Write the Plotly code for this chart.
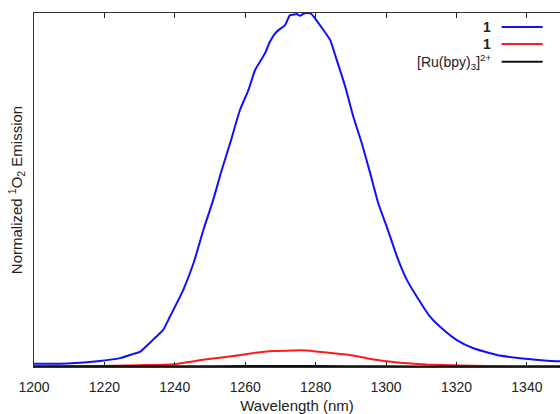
import plotly.graph_objects as go

# Wavelength (nm) and normalized emission values
blue_x = [1200, 1209.5, 1218.75, 1224.4, 1228.2, 1230.1, 1233.9, 1236.7, 1238.6, 1242.4,
          1245.3, 1248.1, 1250.9, 1253.3, 1255.7, 1258.5, 1260.9, 1262.8, 1265.6, 1267.0,
          1268.9, 1271.3, 1272.7, 1273.6, 1274.6, 1275.6, 1276.5, 1277.5, 1278.7, 1279.8,
          1282.2, 1284.1, 1286.0, 1288.4, 1290.7, 1293.1, 1295.5, 1297.8, 1300.2, 1303.1,
          1305.9, 1308.7, 1312.5, 1316.3, 1320.1, 1324.8, 1331.5, 1338.1, 1345.7, 1349.5]
blue_y = [0.009, 0.010, 0.017, 0.025, 0.037, 0.043, 0.078, 0.105, 0.142, 0.218,
          0.293, 0.387, 0.472, 0.556, 0.632, 0.726, 0.782, 0.839, 0.886, 0.919,
          0.947, 0.966, 0.994, 0.995, 0.997, 0.992, 0.998, 1.000, 0.998, 0.985,
          0.952, 0.924, 0.867, 0.792, 0.707, 0.632, 0.547, 0.462, 0.396, 0.312,
          0.246, 0.199, 0.142, 0.105, 0.076, 0.053, 0.034, 0.025, 0.018, 0.016]

red_x = [1200, 1215, 1230, 1239.6, 1249.0, 1256.6, 1262.0, 1268.0, 1272.0, 1275.6, 1280.0,
         1285.0, 1288.8, 1294.5, 1300.2, 1304.0, 1311.6, 1321.0, 1336.0, 1349.5]
red_y = [0.001, 0.002, 0.005, 0.008, 0.022, 0.031, 0.039, 0.045, 0.046, 0.047, 0.044,
         0.039, 0.035, 0.025, 0.016, 0.012, 0.007, 0.004, 0.002, 0.002]

black_x = [1200, 1220, 1240, 1260, 1280, 1300, 1320, 1340, 1349.5]
black_y = [0.002, 0.002, 0.002, 0.0025, 0.0025, 0.002, 0.0015, 0.0015, 0.0015]

legend_labels = ["<b>1</b>", "<b>1</b>", "[Ru(bpy)<sub>3</sub>]<sup>2+</sup>"]
colors = ["#1010ff", "#ff1a1a", "#111111"]
x_ticks = [1200, 1220, 1240, 1260, 1280, 1300, 1320, 1340]

fig = go.Figure()
for xs, ys, c, name in [(blue_x, blue_y, colors[0], legend_labels[0]),
                        (red_x, red_y, colors[1], legend_labels[1]),
                        (black_x, black_y, colors[2], legend_labels[2])]:
    fig.add_trace(go.Scatter(x=xs, y=ys, mode="lines", name=name,
                             line=dict(color=c, width=2, shape="spline", smoothing=0.5),
                             showlegend=False))

font = dict(family="Liberation Sans, Arial, sans-serif", size=14, color="#222222")
tfont = dict(family="Liberation Sans, Arial, sans-serif", size=15, color="#222222")

# legend drawn manually (text left of line sample, like the reference)
leg_y = [0.9605, 0.9125, 0.862]
for lbl, c, yy in zip(legend_labels, colors, leg_y):
    fig.add_annotation(x=0.873, y=yy, xref="paper", yref="paper", text=lbl,
                       showarrow=False, xanchor="right", yanchor="middle", font=font)
    fig.add_shape(type="line", xref="paper", yref="paper", x0=0.889, x1=0.967,
                  y0=yy, y1=yy, line=dict(color=c, width=2))

fig.update_layout(
    width=560, height=414,
    margin=dict(l=34, r=0, t=13, b=47),
    paper_bgcolor="white", plot_bgcolor="white",
    font=font,
    xaxis=dict(range=[1200, 1349.4], tickvals=x_ticks, ticks="inside", ticklen=5,
               tickcolor="#222222", showline=True, linecolor="#333333", linewidth=1,
               mirror="ticks", showgrid=False, zeroline=False, ticklabelstandoff=7,
               automargin=False,
               title=dict(text="Wavelength (nm)", font=tfont, standoff=8)),
    yaxis=dict(range=[0, 1.0], showticklabels=False, ticks="", showline=True,
               linecolor="#333333", linewidth=1, mirror=True, showgrid=False,
               zeroline=False, automargin=False,
               title=dict(text="Normalized <sup>1</sup>O<sub>2</sub> Emission", font=tfont,
                          standoff=6)),
)

fig.write_html("out.html")
